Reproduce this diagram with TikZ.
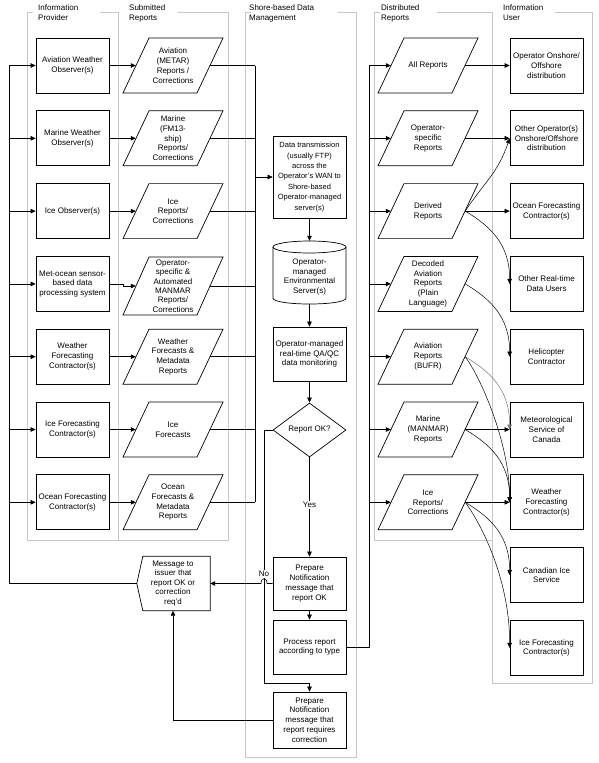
\documentclass[tikz,border=0pt]{standalone}
\usepackage{fontspec}
\setmainfont{Liberation Sans}
\usetikzlibrary{arrows.meta,shapes.geometric}
\newcommand\mypara[2][27.5]{\draw[shapeline] ([xshift=-50pt,yshift=-#1pt]#2.center) -- ([xshift=-24pt,yshift=#1pt]#2.center) -- ([xshift=50pt,yshift=#1pt]#2.center) -- ([xshift=24pt,yshift=-#1pt]#2.center) -- cycle;}
\begin{document}
\begin{tikzpicture}[x=1pt,y=-1pt,
  every node/.style={font=\fontsize{8}{9.8}\selectfont, align=center},
  line/.style={line width=0.6pt},
  arr/.style={line width=0.6pt,-{Triangle[length=5pt,width=4.5pt]}},
  carr/.style={line width=0.5pt,-{Triangle[length=5pt,width=4.5pt]}},
  box/.style={draw, line width=0.7pt, minimum width=73pt, minimum height=55pt, inner sep=1pt},
  ptext/.style={minimum width=74pt, minimum height=55pt, inner sep=0pt},
  lane/.style={draw=gray!45, line width=0.9pt},
  hdr/.style={anchor=north west, align=left, inner sep=0pt},
  shapeline/.style={draw, line width=0.7pt},
  lbl/.style={fill=white, inner sep=0.8pt},
]
\useasboundingbox (0,0) rectangle (598,763);

% swim lanes
\draw[lane] (33,12) -- (27,12) -- (27,540) -- (118,540) -- (118,12) -- (100,12);
\draw[lane] (178,12) -- (228,12) -- (228,540) -- (118,540);
\draw[lane] (251,12) -- (245,12) -- (245,757) -- (356,757) -- (356,12) -- (338,12);
\draw[lane] (380,12) -- (374,12) -- (374,540) -- (492,540) -- (492,12) -- (437,12);
\draw[lane] (555,12) -- (592,12) -- (592,683) -- (492,683) -- (492,540);

\node[hdr] (h1) at (38,5) {Information\\Provider};
\node[hdr] (h2) at (129,5) {Submitted\\Reports};
\node[hdr] (h3) at (249,5) {Shore-based Data\\Management};
\node[hdr] (h4) at (381,5) {Distributed\\Reports};
\node[hdr] (h5) at (503,5) {Information\\User};

% information providers
\node[box] (b1) at (72.5,65.5) {Aviation Weather\\Observer(s)};
\node[box] (b2) at (72.5,138.3) {Marine Weather\\Observer(s)};
\node[box] (b3) at (72.5,211.1) {Ice Observer(s)};
\node[box] (b4) at (72.5,283.9) {Met-ocean sensor-\\based data\\processing system};
\node[box] (b5) at (72.5,356.7) {Weather\\Forecasting\\Contractor(s)};
\node[box] (b6) at (72.5,429.5) {Ice Forecasting\\Contractor(s)};
\node[box] (b7) at (72.5,502.3) {Ocean Forecasting\\Contractor(s)};

% submitted reports
\node[ptext] (p1) at (173,65.5) {Aviation\\(METAR)\\Reports /\\Corrections};
\node[ptext] (p2) at (173,138.3) {Marine\\(FM13-\\ship)\\Reports/\\Corrections};
\node[ptext] (p3) at (173,211.1) {Ice\\Reports/\\Corrections};
\node[ptext, font=\fontsize{8}{9.3}\selectfont] (p4) at (173,286) {Operator-\\specific \&\\Automated\\MANMAR\\Reports/\\Corrections};
\node[ptext] (p5) at (173,356.7) {Weather\\Forecasts \&\\Metadata\\Reports};
\node[ptext] (p6) at (173,429.5) {Ice\\Forecasts};
\node[ptext] (p7) at (173,502.3) {Ocean\\Forecasts \&\\Metadata\\Reports};
\mypara{p1}\mypara{p2}\mypara{p3}\mypara[29]{p4}\mypara{p5}\mypara{p6}\mypara{p7}

% shore-based data management
\node[box, minimum height=82pt, font=\fontsize{7.5}{10.4}\selectfont] (data) at (309.5,177) {Data transmission\\(usually FTP)\\across the\\Operator's WAN to\\Shore-based\\Operator-managed\\server(s)};
\node[minimum width=73pt, minimum height=63pt, inner sep=0pt] (cyl) at (309.5,272.5) {};
\draw[shapeline] (273,247) -- (273,298) .. controls (273,306) and (346,306) .. (346,298) -- (346,247);
\draw[shapeline] (309.5,247) ellipse [x radius=36.5pt, y radius=6pt];
\node (cyltext) at (309.5,277) {Operator-\\managed\\Environmental\\Server(s)};
\node[box, minimum height=54pt] (qa) at (309.5,354) {Operator-managed\\real-time QA/QC\\data monitoring};
\node[diamond, draw, line width=0.7pt, minimum width=73pt, minimum height=54pt, inner sep=0pt] (dec) at (309.5,430) {Report OK?};
\node[box, minimum height=53pt] (ok) at (309.5,583.5) {Prepare\\Notification\\message that\\report OK};
\node[box, minimum height=54pt] (proc) at (309.5,647) {Process report\\according to type};
\node[box, minimum height=56pt] (corr) at (309.5,720) {Prepare\\Notification\\message that\\report requires\\correction};
\node[minimum width=74pt, minimum height=54pt, inner sep=0pt, font=\fontsize{8}{9.5}\selectfont] (msg) at (173,583.5) {Message to\\issuer that\\report OK or\\correction\\req'd};
\draw[shapeline] ([xshift=7pt]msg.north west) -- ([xshift=1pt]msg.west) -- ([xshift=7pt]msg.south west) -- (msg.south east) -- (msg.north east) -- cycle;

% distributed reports
\node[ptext] (d1) at (428,65.5) {All Reports};
\node[ptext] (d2) at (428,138.3) {Operator-\\specific\\Reports};
\node[ptext] (d3) at (428,211.1) {Derived\\Reports};
\node[ptext] (d4) at (428,283.9) {Decoded\\Aviation\\Reports\\(Plain\\Language)};
\node[ptext] (d5) at (428,356.7) {Aviation\\Reports\\(BUFR)};
\node[ptext] (d6) at (428,429.5) {Marine\\(MANMAR)\\Reports};
\node[ptext] (d7) at (428,502.3) {Ice\\Reports/\\Corrections};
\mypara{d1}\mypara{d2}\mypara{d3}\mypara{d4}\mypara{d5}\mypara{d6}\mypara{d7}

% information users
\node[box] (u1) at (546.5,65.5) {Operator Onshore/\\Offshore\\distribution};
\node[box] (u2) at (546.5,138.3) {Other Operator(s)\\Onshore/Offshore\\distribution};
\node[box] (u3) at (546.5,211.1) {Ocean Forecasting\\Contractor(s)};
\node[box] (u4) at (546.5,283.9) {Other Real-time\\Data Users};
\node[box] (u5) at (546.5,356.7) {Helicopter\\Contractor};
\node[box] (u6) at (546.5,429.5) {Meteorological\\Service of\\Canada};
\node[box] (u7) at (546.5,502.3) {Weather\\Forecasting\\Contractor(s)};
\node[box] (u8) at (546.5,575.1) {Canadian Ice\\Service};
\node[box] (u9) at (546.5,647.9) {Ice Forecasting\\Contractor(s)};

% provider -> submitted
\foreach \i in {1,2,3,5,6,7} {\draw[arr] (b\i.east) -- (p\i.west);}
\draw[arr] (b4.east) -- ++(14,0) |- (p4.west);

% submitted -> transmission bus
\coordinate (bus) at (255,0);
\foreach \i in {1,...,7} {\draw[line] (p\i.east) -- (bus |- p\i.east);}
\draw[line] (bus |- p1.east) -- (bus |- p7.east);
\draw[arr] (bus |- data.west) -- (data.west);

% main flow
\draw[arr] (data.south) -- (cyl.north);
\draw[arr] (cyl.south) -- (qa.north);
\draw[arr] (qa.south) -- (dec.north);
\draw[arr] (dec.south) -- node[lbl, pos=0.48] (yes) {Yes} (ok.north);
\draw[arr] (ok.south) -- (proc.north);
\coordinate (nox) at (264,683);
\draw[arr] (dec.west) -| (nox) -| (corr.north);
\node[lbl] (nolab) at (264,574) {No};
\draw[arr] (ok.west) -- (267,583.5) .. controls (267,577) and (261,577) .. (261,583.5) -- (msg.east);
\draw[arr] (corr.west) -| (msg.south);

% feedback to providers
\coordinate (fb) at (9,0);
\draw[line] ([xshift=1pt]msg.west) -- (fb |- msg.west) -- (fb |- b1.west);
\foreach \i in {1,...,7} {\draw[arr] (fb |- b\i.west) -- (b\i.west);}

% distribution
\coordinate (dbus) at (369,0);
\draw[line] (proc.east) -| (dbus |- d1.west);
\foreach \i in {1,...,7} {\draw[arr] (dbus |- d\i.west) -- (d\i.west);}

% distributed -> users
\foreach \i in {1,2,3,6,7} {\draw[arr] (d\i.east) -- (u\i.west);}
\draw[carr] (d3.east) .. controls +(20,-30) and +(-12,35) .. (u2.west);
\draw[carr] (d3.east) .. controls +(25,15) and +(0,-40) .. (u4.west);
\draw[carr] (d4.east) .. controls +(25,15) and +(0,-40) .. (u5.west);
\draw[carr, draw=black!55] (d5.east) .. controls +(25,15) and +(0,-40) .. (u6.west);
\draw[carr] (d5.east) .. controls +(15,20) and +(0,-60) .. (u7.west);
\draw[carr] (d6.east) .. controls +(25,15) and +(0,-40) .. (u7.west);
\draw[carr] (d7.east) .. controls +(25,15) and +(0,-40) .. (u8.west);
\draw[carr] (d7.east) .. controls +(15,20) and +(0,-70) .. (u9.west);
\end{tikzpicture}
\end{document}
